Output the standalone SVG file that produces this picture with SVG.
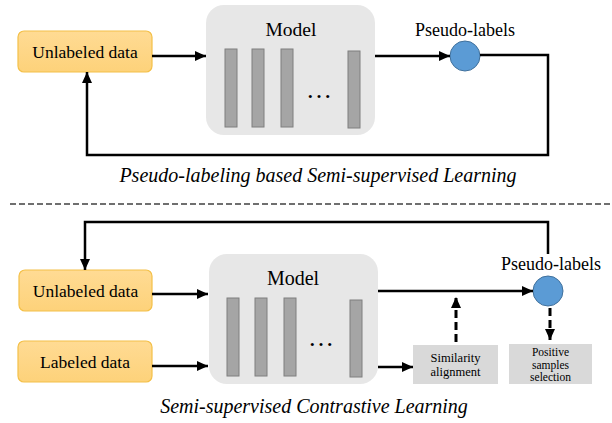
<svg xmlns="http://www.w3.org/2000/svg" width="612" height="423" viewBox="0 0 612 423">
<defs>
<marker id="ah" markerUnits="userSpaceOnUse" markerWidth="12" markerHeight="10" refX="11" refY="5" orient="auto">
<path d="M0,0 L11,5 L0,10 Z" fill="#000"/>
</marker>
<linearGradient id="yg" x1="0" y1="0" x2="0" y2="1">
<stop offset="0" stop-color="#FFDB94"/>
<stop offset="1" stop-color="#FDD27A"/>
</linearGradient>
<style>
.data{fill:url(#yg);stroke:#F4C048;stroke-width:1.2}
.model{fill:#E7E7E7}
.bar{fill:#A5A5A5;stroke:#7F7F7F;stroke-width:1}
.pl{fill:#5B9BD5;stroke:#41719C;stroke-width:1}
.gbox{fill:#D9D9D9}
.t{font-family:"Liberation Serif","Times New Roman",serif;fill:#000;text-anchor:middle}
.cap{font-family:"Liberation Serif","Times New Roman",serif;font-style:italic;font-size:20px;text-anchor:middle;fill:#000}
.ln{fill:none;stroke:#000;stroke-width:2.5}
.arr{fill:none;stroke:#000;stroke-width:2.5;marker-end:url(#ah)}
.darr{fill:none;stroke:#000;stroke-width:3;stroke-dasharray:8,4;marker-end:url(#ah)}
</style>
</defs>

<!-- Top section -->
<g id="top-unlabeled">
<rect class="data" x="18" y="31" width="134" height="41" rx="6"/>
<text class="t" x="85" y="57.5" font-size="17.5">Unlabeled data</text>
</g>
<g id="top-model">
<rect class="model" x="206" y="5" width="169" height="130" rx="18"/>
<text class="t" x="291" y="36" font-size="19.5">Model</text>
<rect class="bar" x="225" y="49" width="12" height="78"/>
<rect class="bar" x="252" y="49" width="12" height="78"/>
<rect class="bar" x="281" y="49" width="12" height="78"/>
<rect class="bar" x="348" y="51" width="12" height="77"/>
<text class="t" x="319" y="98" font-size="26">…</text>
</g>
<g id="top-pseudo">
<text class="t" x="465" y="35.5" font-size="18">Pseudo-labels</text>
<circle class="pl" cx="465" cy="56" r="15"/>
</g>
<g id="top-caption">
<text class="cap" x="318" y="182">Pseudo-labeling based Semi-supervised Learning</text>
</g>

<!-- separator -->
<line x1="10" y1="204" x2="612" y2="204" stroke="#404040" stroke-width="1.5" stroke-dasharray="6,3"/>

<!-- Bottom section -->
<g id="bot-unlabeled">
<rect class="data" x="19" y="270" width="133" height="41" rx="6"/>
<text class="t" x="85.5" y="296.5" font-size="17.5">Unlabeled data</text>
</g>
<g id="bot-labeled">
<rect class="data" x="18" y="341" width="134" height="41" rx="6"/>
<text class="t" x="85" y="367.5" font-size="17.5">Labeled data</text>
</g>
<g id="bot-model">
<rect class="model" x="209" y="254" width="169" height="130" rx="18"/>
<text class="t" x="293" y="285" font-size="20">Model</text>
<rect class="bar" x="227" y="298" width="12" height="78"/>
<rect class="bar" x="255" y="298" width="12" height="78"/>
<rect class="bar" x="284" y="298" width="12" height="78"/>
<rect class="bar" x="350" y="300" width="12" height="77"/>
<text class="t" x="321" y="346" font-size="26">…</text>
</g>
<g id="bot-pseudo">
<text class="t" x="551" y="270" font-size="18">Pseudo-labels</text>
<circle class="pl" cx="548" cy="291" r="15"/>
</g>
<g id="similarity">
<rect class="gbox" x="413" y="345" width="85" height="39"/>
<text class="t" x="455.5" y="362" font-size="12.5">Similarity</text>
<text class="t" x="455.5" y="376" font-size="12.5">alignment</text>
</g>
<g id="positive">
<rect class="gbox" x="509" y="344" width="83" height="40"/>
<text class="t" x="550.5" y="356" font-size="11.5">Positive</text>
<text class="t" x="550.5" y="368.5" font-size="11.5">samples</text>
<text class="t" x="550.5" y="381" font-size="11.5">selection</text>
</g>
<g id="bot-caption">
<text class="cap" x="314" y="413">Semi-supervised Contrastive Learning</text>
</g>

<!-- Connectors -->
<g id="connectors">
<path class="arr" d="M152,56 H206"/>
<path class="arr" d="M375,56 H450"/>
<path class="arr" d="M480,55 H548 V155 H87 V72"/>
<path class="arr" d="M548,254 V222 H85 V270"/>
<path class="arr" d="M152,294 H208"/>
<path class="arr" d="M152,366 H208"/>
<path class="arr" d="M378,291 H533"/>
<path class="arr" d="M378,367 H413"/>
<path class="darr" d="M456,342 V297"/>
<path class="darr" d="M550,308 V340"/>
</g>
</svg>
